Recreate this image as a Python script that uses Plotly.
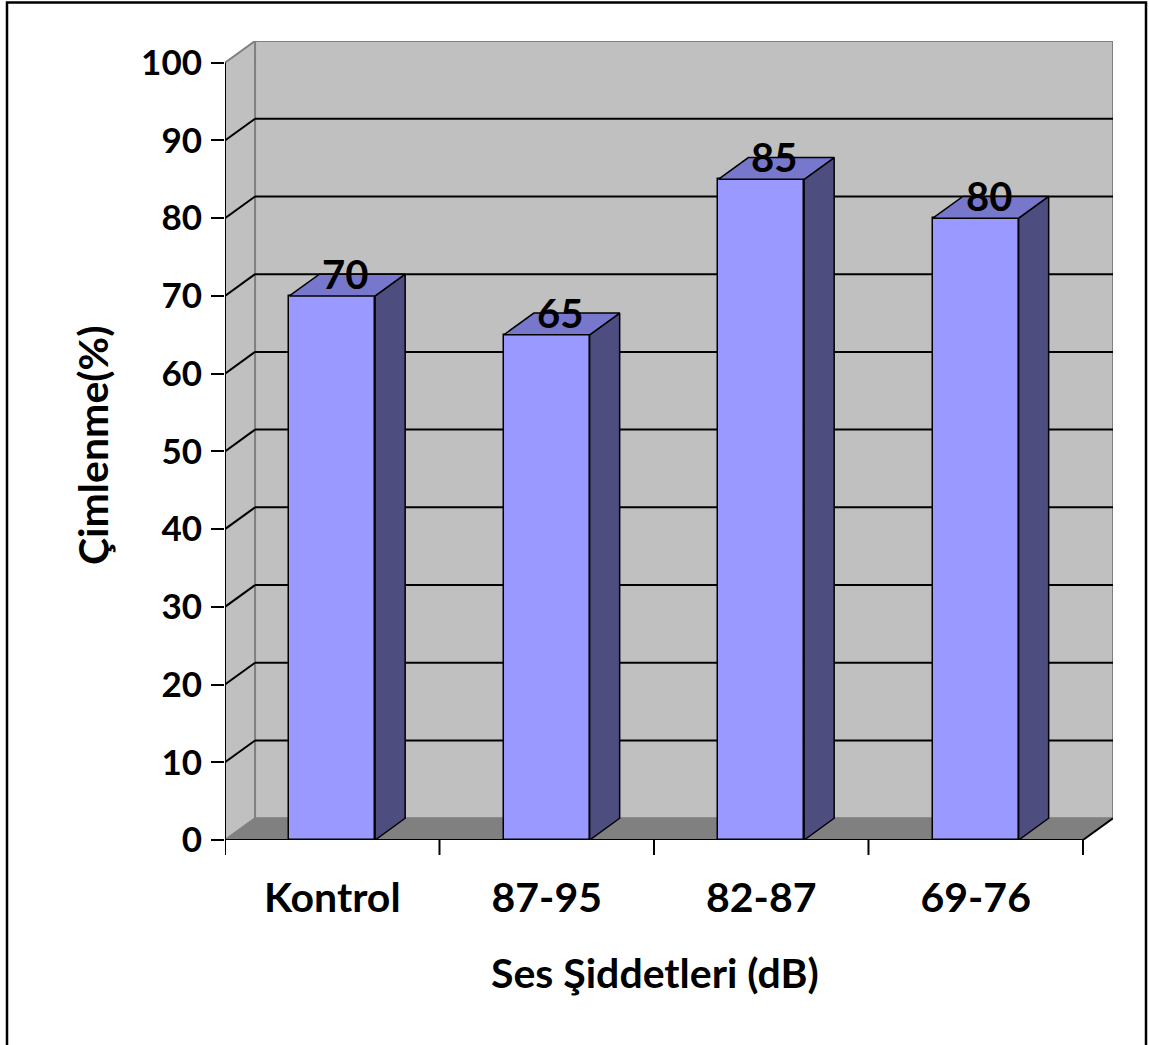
import plotly.graph_objects as go

# ---- data ----
categories = ["Kontrol", "87-95", "82-87", "69-76"]
values = [70, 65, 85, 80]
value_labels = ["70", "65", "85", "80"]
y_ticks = [0, 10, 20, 30, 40, 50, 60, 70, 80, 90, 100]
x_title = "Ses Şiddetleri (dB)"
y_title = "Çimlenme(%)"

# ---- geometry / style ----
W, H = 1149, 1045
ML, MR, MT, MB = 225, 36, 41, 205
DX = 0.14      # depth offset in category units
DY = 2.8       # depth offset in value units
BW = 0.4       # bar width
X0, X1 = -0.5, len(categories) - 0.5
YMAX = 100
FONT = "Lato"

front_col = "#9999FF"
side_col = "#4D4D80"
top_col = "#7777CC"
wall_col = "#C0C0C0"
wall_edge = "#808080"
floor_col = "#808080"

fig = go.Figure()
shapes = []

# back wall
shapes.append(dict(type="rect", xref="x", yref="y", x0=X0 + DX, x1=X1 + DX, y0=DY, y1=YMAX + DY,
                   fillcolor=wall_col, line=dict(color=wall_edge, width=2), layer="below"))
# side wall
shapes.append(dict(type="path", xref="x", yref="y",
                   path=f"M {X0},0 L {X0+DX},{DY} L {X0+DX},{YMAX+DY} L {X0},{YMAX} Z",
                   fillcolor=wall_col, line=dict(color=wall_edge, width=2), layer="below"))
# floor
shapes.append(dict(type="path", xref="x", yref="y",
                   path=f"M {X0},0 L {X1},0 L {X1+DX},{DY} L {X0+DX},{DY} Z",
                   fillcolor=floor_col, line=dict(color=wall_edge, width=1), layer="below"))
# floor right edge
shapes.append(dict(type="line", xref="x", yref="y", x0=X1, y0=0, x1=X1 + DX, y1=DY,
                   line=dict(color="black", width=2), layer="below"))
# gridlines on back wall + side wall
for v in y_ticks[1:-1]:
    shapes.append(dict(type="line", xref="x", yref="y", x0=X0 + DX, x1=X1 + DX, y0=v + DY, y1=v + DY,
                       line=dict(color="black", width=2), layer="below"))
    shapes.append(dict(type="line", xref="x", yref="y", x0=X0, x1=X0 + DX, y0=v, y1=v + DY,
                       line=dict(color="black", width=2), layer="below"))
# front axes
shapes.append(dict(type="line", xref="x", yref="y", x0=X0, x1=X0, y0=0, y1=YMAX,
                   line=dict(color="black", width=2)))
shapes.append(dict(type="line", xref="x", yref="y", x0=X0, x1=X1, y0=0, y1=0,
                   line=dict(color="black", width=2)))
# x tick marks (between categories)
for k in range(len(categories) + 1):
    xv = X0 + k
    shapes.append(dict(type="line", xref="x", yref="paper", x0=xv, x1=xv, y0=0, y1=-15 / (H - MT - MB),
                       line=dict(color="black", width=2)))

# outer border (pixel -> paper)
pw, ph = W - ML - MR, H - MT - MB
def px(xp):
    return (xp - ML) / pw
def py(yp):
    return (H - MB - yp) / ph
shapes.append(dict(type="rect", xref="paper", yref="paper", x0=px(7), x1=px(1146), y0=py(1060), y1=py(2.5),
                   line=dict(color="black", width=2.5), fillcolor="rgba(0,0,0,0)"))

# bar front faces
xs = list(range(len(categories)))
fig.add_trace(go.Bar(x=xs, y=values, width=BW, marker=dict(color=front_col, line=dict(color="black", width=1.5)),
                     hoverinfo="skip", showlegend=False))
# side & top faces
for i, v in zip(xs, values):
    r = i + BW / 2
    l = i - BW / 2
    fig.add_trace(go.Scatter(x=[r, r + DX, r + DX, r, r], y=[0, DY, v + DY, v, 0], mode="lines", fill="toself",
                             fillcolor=side_col, line=dict(color="black", width=1.5), hoverinfo="skip",
                             showlegend=False))
    fig.add_trace(go.Scatter(x=[l, r, r + DX, l + DX, l], y=[v, v, v + DY, v + DY, v], mode="lines", fill="toself",
                             fillcolor=top_col, line=dict(color="black", width=1.5), hoverinfo="skip",
                             showlegend=False))

annotations = []
for i, v, t in zip(xs, values, value_labels):
    annotations.append(dict(x=i + DX / 2, y=v + DY / 2, xref="x", yref="y", text=f"<b>{t}</b>", showarrow=False,
                            xanchor="center", yanchor="middle", xshift=-2, yshift=11,
                            font=dict(family=FONT, size=40, color="black")))
annotations.append(dict(x=px(655), y=py(973), xref="paper", yref="paper", text=f"<b>{x_title}</b>",
                        showarrow=False, xanchor="center", yanchor="middle",
                        font=dict(family=FONT, size=41, color="black")))
annotations.append(dict(x=px(93), y=py(446), xref="paper", yref="paper", text=f"<b>{y_title}</b>",
                        showarrow=False, textangle=-90, xanchor="center", yanchor="middle",
                        font=dict(family=FONT, size=41, color="black")))

fig.update_layout(
    width=W, height=H,
    margin=dict(l=ML, r=MR, t=MT, b=MB),
    paper_bgcolor="white", plot_bgcolor="rgba(0,0,0,0)",
    shapes=shapes, annotations=annotations,
    bargap=0,
    xaxis=dict(range=[X0, X1 + DX], tickvals=xs, ticktext=[f"<b>{c}</b>" for c in categories],
               ticks="", showgrid=False, zeroline=False, showline=False, ticklabelstandoff=30,
               tickfont=dict(family=FONT, size=41, color="black"), fixedrange=True),
    yaxis=dict(range=[0, YMAX + DY], tickvals=y_ticks, ticktext=[f"<b>{t}</b>" for t in y_ticks],
               ticks="outside", ticklen=13, tickwidth=2, tickcolor="black", showgrid=False, zeroline=False,
               showline=False, ticklabelstandoff=2, tickfont=dict(family=FONT, size=35, color="black"),
               fixedrange=True),
)

fig.write_html("out.html")
